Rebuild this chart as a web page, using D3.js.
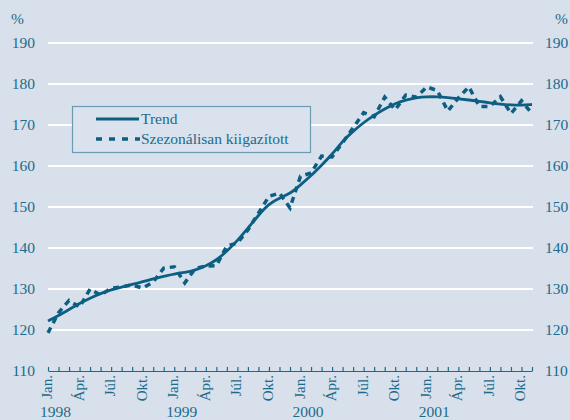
<!DOCTYPE html>
<html>
<head>
<meta charset="utf-8">
<script src="https://cdn.jsdelivr.net/npm/d3@7"></script>
<style>
  body { margin: 0; background: #d8e0eb; }
  svg { display: block; }
  text { font-family: "Liberation Serif", "Times New Roman", serif; fill: #1c6b8b; }
</style>
</head>
<body>
<script>
// monthly data, Jan 1998 .. Nov 2001
var trend = [122.2, 123.5, 125.0, 126.5, 127.8, 128.9, 129.8, 130.5, 131.1, 131.8, 132.5, 133.1,
             133.7, 134.0, 134.6, 135.6, 137.0, 139.2, 141.8, 144.8, 148.0, 150.8, 152.2, 153.2,
             155.4, 157.6, 160.2, 162.8, 166.1, 168.5, 170.6, 172.4, 173.9, 175.3, 176.1, 176.7,
             176.9, 176.9, 176.7, 176.4, 176.1, 175.8, 175.4, 175.1, 174.9, 174.8, 175.0];
var seasAdj = [119.3, 124.2, 127.2, 125.6, 130.0, 128.5, 130.2, 130.5, 131.0, 130.2, 131.7, 135.1,
               135.4, 131.5, 135.0, 135.6, 135.7, 140.5, 141.2, 144.4, 148.5, 152.6, 153.4, 149.8,
               157.5, 158.3, 162.4, 162.2, 165.7, 169.3, 173.0, 172.0, 176.8, 173.7, 177.3, 176.8,
               179.3, 178.4, 173.4, 176.6, 179.3, 174.5, 174.5, 176.9, 172.8, 175.9, 172.8];
var monthLabels = ["Jan.", "Ápr.", "Júl.", "Okt."];
var years = ["1998", "1999", "2000", "2001"];
var yTicks = [110, 120, 130, 140, 150, 160, 170, 180, 190];
var seriesNames = ["Trend", "Szezonálisan kiigazított"];

var W = 570, H = 420;
var plotL = 48, plotR = 532, plotT = 43, plotB = 371;
var lineColor = "#0c5f82";

var svg = d3.select("body").append("svg")
    .attr("width", W)
    .attr("height", H);

var x = d3.scaleLinear().domain([0, trend.length - 1]).range([plotL, plotR]);
var y = d3.scaleLinear().domain([110, 190]).range([plotB, plotT]);

// white gridlines
svg.append("g")
    .selectAll("line")
    .data(yTicks.filter(function(d) { return d > 110; }))
    .enter().append("line")
    .attr("x1", plotL).attr("x2", plotR + 1)
    .attr("y1", function(d) { return y(d); })
    .attr("y2", function(d) { return y(d); })
    .attr("stroke", "#ffffff")
    .attr("stroke-width", 2);

// y labels both sides
svg.append("g").selectAll("text")
    .data(yTicks).enter().append("text")
    .attr("x", 35).attr("y", function(d) { return y(d) + 5; })
    .attr("text-anchor", "end")
    .attr("font-size", 15.5)
    .text(function(d) { return d; });
svg.append("g").selectAll("text")
    .data(yTicks).enter().append("text")
    .attr("x", 545).attr("y", function(d) { return y(d) + 5; })
    .attr("font-size", 15.5)
    .text(function(d) { return d; });
svg.append("text").attr("x", 11).attr("y", 24).attr("font-size", 15.5).text("%");
svg.append("text").attr("x", 555).attr("y", 24).attr("font-size", 15.5).text("%");

// x axis with monthly ticks pointing up
var xAxis = d3.axisBottom(x)
    .tickValues(d3.range(trend.length))
    .tickSize(-4)
    .tickSizeOuter(0)
    .tickFormat("");
var gx = svg.append("g")
    .attr("transform", "translate(0," + plotB + ")")
    .call(xAxis);
gx.selectAll("path, line").attr("stroke", "#1c6b8b").attr("stroke-width", 1.2);

// month labels (rotated)
svg.append("g").selectAll("text")
    .data(d3.range(0, trend.length, 3)).enter().append("text")
    .attr("transform", function(d) { return "translate(" + (x(d) + 4) + "," + (plotB + 4) + ") rotate(-90)"; })
    .attr("text-anchor", "end")
    .attr("font-size", 15)
    .text(function(d) { return monthLabels[(d / 3) % 4]; });

// year labels
svg.append("g").selectAll("text")
    .data(years).enter().append("text")
    .attr("x", function(d, i) { return x(i * 12) - 8; })
    .attr("y", 417)
    .attr("font-size", 15.5)
    .text(function(d) { return d; });

// lines
var trendLine = d3.line()
    .x(function(d, i) { return x(i); })
    .y(function(d) { return y(d); })
    .curve(d3.curveBasis);
var seasLine = d3.line()
    .x(function(d, i) { return x(i); })
    .y(function(d) { return y(d); });

svg.append("path")
    .datum(seasAdj)
    .attr("d", seasLine)
    .attr("fill", "none")
    .attr("stroke", lineColor)
    .attr("stroke-width", 3.5)
    .attr("stroke-dasharray", "6,5");

svg.append("path")
    .datum(trend)
    .attr("d", trendLine)
    .attr("fill", "none")
    .attr("stroke", lineColor)
    .attr("stroke-width", 2.8);

// legend
var lg = svg.append("g");
lg.append("rect")
    .attr("x", 72.5).attr("y", 106.5)
    .attr("width", 238).attr("height", 46)
    .attr("fill", "#dae2ed")
    .attr("stroke", "#6d9bb4")
    .attr("stroke-width", 1.2);
lg.append("line")
    .attr("x1", 96).attr("x2", 139).attr("y1", 119).attr("y2", 119)
    .attr("stroke", lineColor).attr("stroke-width", 2.8);
lg.append("line")
    .attr("x1", 96).attr("x2", 140).attr("y1", 139).attr("y2", 139)
    .attr("stroke", lineColor).attr("stroke-width", 3.5)
    .attr("stroke-dasharray", "6,7");
lg.selectAll("text.lab")
    .data(seriesNames).enter().append("text")
    .attr("x", 141)
    .attr("y", function(d, i) { return 124 + i * 20; })
    .attr("font-size", 15.5)
    .text(function(d) { return d; });
</script>
</body>
</html>
